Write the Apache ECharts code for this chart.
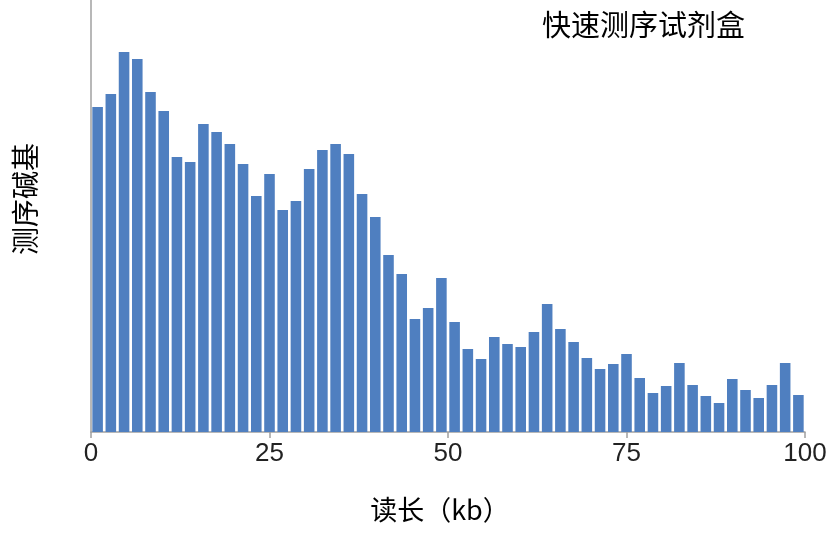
<!DOCTYPE html>
<html>
<head>
<meta charset="utf-8">
<script src="https://cdn.jsdelivr.net/npm/echarts@6/dist/echarts.min.js"></script>
<style>html,body{margin:0;padding:0;background:#fff}#c{width:834px;height:534px}</style>
</head>
<body>
<div id="c"></div>
<script>
var binCount = 54;
var binLabels = [];
for (var i = 0; i < binCount; i++) { binLabels.push(String(i)); }
var readValues = [325, 338, 380, 373, 340, 321, 275, 270, 308, 300, 288, 268, 236, 258, 222, 231, 263, 282, 288, 278, 238, 215,
  177, 158, 113, 124, 154, 110, 83, 73, 95, 88, 85, 100, 128, 103, 90, 74, 63, 68, 78, 54, 39, 46, 69, 47, 36, 29, 53, 42, 34, 47, 69, 37];
var xTickMin = 0, xTickMax = 100, xTickStep = 25;
var titleText = '快速测序试剂盒';
var xName = '读长（kb）';
var yName = '测序碱基';

var chart = echarts.init(document.getElementById('c'), null, {renderer: 'canvas'});
chart.setOption({
  animation: false,
  backgroundColor: '#ffffff',
  title: {
    text: titleText, left: 537, top: 5,
    textStyle: {fontFamily: 'Noto Sans CJK SC', fontSize: 29, fontWeight: 'normal', color: '#000'}
  },
  graphic: [{
    type: 'text', left: 11, top: 143,
    rotation: Math.PI / 2,
    style: {text: yName, fontFamily: 'Noto Sans CJK SC', fontSize: 28, fill: '#000'}
  }],
  grid: {left: 91, right: 29, top: 0, bottom: 102, containLabel: false},
  xAxis: [
    {type: 'category', data: binLabels, show: false, boundaryGap: true},
    {type: 'value', min: xTickMin, max: xTickMax, interval: xTickStep, position: 'bottom',
     axisLine: {show: true, lineStyle: {color: '#a0a0a0', width: 1.5}},
     axisTick: {show: true, length: 6, lineStyle: {color: '#a0a0a0', width: 1.5}},
     splitLine: {show: false},
     axisLabel: {fontFamily: 'Liberation Sans', fontSize: 26, color: '#222', margin: 9},
     name: xName, nameLocation: 'middle', nameGap: 64,
     nameTextStyle: {fontFamily: 'Noto Sans CJK SC', fontSize: 27, color: '#000', padding: [0, 16, 0, 0]}}
  ],
  yAxis: {
    type: 'value', min: 0, max: 432,
    axisLine: {show: true, lineStyle: {color: '#a0a0a0', width: 1.5}},
    axisTick: {show: false}, axisLabel: {show: false}, splitLine: {show: false}
  },
  series: [{
    type: 'bar', xAxisIndex: 0, data: readValues,
    barCategoryGap: '20%',
    itemStyle: {color: '#4F7FC0'}
  }]
});
</script>
</body>
</html>
